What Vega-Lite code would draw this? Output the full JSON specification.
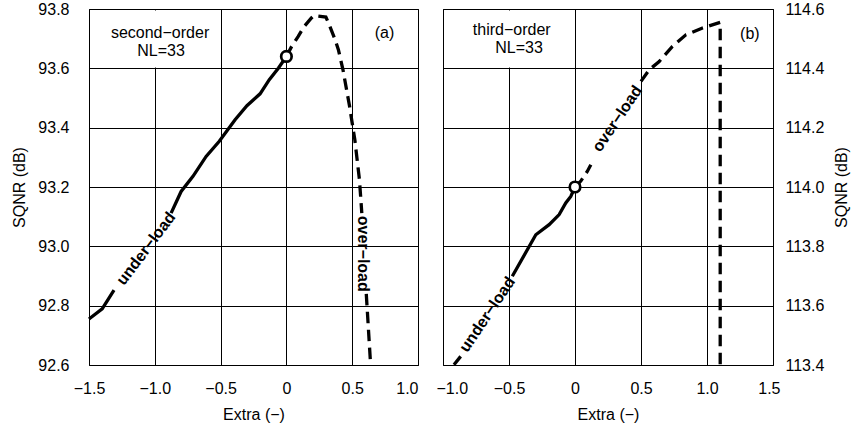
{
  "$schema": "https://vega.github.io/schema/vega-lite/v6.json",
  "padding": {"left": 11, "top": 0, "right": 0, "bottom": 0},
  "spacing": 16,
  "config": {
    "font": "Liberation Sans",
    "view": {"stroke": "black", "strokeWidth": 1},
    "axis": {
      "labelFont": "Liberation Sans", "labelFontSize": 16, "labelColor": "black",
      "titleFont": "Liberation Sans", "titleFontSize": 16, "titleFontWeight": "normal", "titleColor": "black",
      "grid": true, "gridColor": "black", "gridOpacity": 1, "gridWidth": 1,
      "ticks": false, "tickSize": 0, "domain": false, "zindex": 0
    },
    "text": {"font": "Liberation Sans", "fontSize": 16, "color": "black"}
  },
  "hconcat": [
    {
      "width": 329, "height": 356,
      "encoding": {
        "x": {"field": "x", "type": "quantitative",
          "scale": {"domain": [-1.5, 1.0], "nice": false, "zero": false},
          "axis": {"values": [-1.5, -1, -0.5, 0, 0.5, 1], "title": "Extra (−)",
            "labelExpr": "datum.value == 0 ? '0' : format(datum.value, '.1f')",
            "labelAlign": {"expr": "datum.value == 1 ? 'right' : 'center'"},
            "labelPadding": 15, "titlePadding": 10}},
        "y": {"field": "y", "type": "quantitative",
          "scale": {"domain": [92.6, 93.8], "nice": false, "zero": false},
          "axis": {"values": [92.6, 92.8, 93.0, 93.2, 93.4, 93.6, 93.8], "format": ".1f", "title": "SQNR (dB)",
            "labelPadding": 20, "titlePadding": 10}}
      },
      "layer": [
        {
          "data": {"values": [{"x": -1.15, "x2": -0.85, "y": 93.603, "y2": 93.795}]},
          "mark": {"type": "rect", "fill": "white"},
          "encoding": {"x2": {"field": "x2"}, "y2": {"field": "y2"}}
        },
        {
          "data": {"values": [
            {"seg": 1, "x": -1.5, "y": 92.755},
            {"seg": 1, "x": -1.40, "y": 92.789},
            {"seg": 1, "x": -1.31, "y": 92.852},
            {"seg": 2, "x": -0.876, "y": 93.112},
            {"seg": 2, "x": -0.80, "y": 93.185},
            {"seg": 2, "x": -0.71, "y": 93.236},
            {"seg": 2, "x": -0.61, "y": 93.303},
            {"seg": 2, "x": -0.51, "y": 93.354},
            {"seg": 2, "x": -0.39, "y": 93.427},
            {"seg": 2, "x": -0.30, "y": 93.474},
            {"seg": 2, "x": -0.20, "y": 93.514},
            {"seg": 2, "x": -0.13, "y": 93.562},
            {"seg": 2, "x": -0.06, "y": 93.601},
            {"seg": 2, "x": 0.0, "y": 93.64}
          ]},
          "mark": {"type": "line", "color": "black", "strokeWidth": 3.3},
          "encoding": {"detail": {"field": "seg", "type": "nominal"}, "order": {"value": null}}
        },
        {
          "data": {"values": [
            {"seg": 3, "x": 0.0, "y": 93.64},
            {"seg": 3, "x": 0.04, "y": 93.674},
            {"seg": 3, "x": 0.09, "y": 93.708},
            {"seg": 3, "x": 0.13, "y": 93.738},
            {"seg": 3, "x": 0.19, "y": 93.770},
            {"seg": 3, "x": 0.21, "y": 93.778},
            {"seg": 3, "x": 0.30, "y": 93.773},
            {"seg": 3, "x": 0.32, "y": 93.753},
            {"seg": 3, "x": 0.37, "y": 93.697},
            {"seg": 3, "x": 0.395, "y": 93.663},
            {"seg": 3, "x": 0.43, "y": 93.595},
            {"seg": 3, "x": 0.48, "y": 93.472},
            {"seg": 3, "x": 0.52, "y": 93.359},
            {"seg": 3, "x": 0.555, "y": 93.225},
            {"seg": 3, "x": 0.573, "y": 93.112},
            {"seg": 4, "x": 0.607, "y": 92.84},
            {"seg": 4, "x": 0.64, "y": 92.6}
          ]},
          "mark": {"type": "line", "color": "black", "strokeWidth": 3.3, "strokeDash": [11.5, 6.5]},
          "encoding": {"detail": {"field": "seg", "type": "nominal"}, "order": {"value": null}}
        },
        {
          "data": {"values": [{"x": 0.0, "y": 93.64}]},
          "mark": {"type": "point", "shape": "circle", "filled": true, "fill": "white", "stroke": "black", "strokeWidth": 2.7, "size": 110, "opacity": 1}
        },
        {
          "data": {"values": [
            {"label": "second−order", "x": -0.96, "y": 93.702},
            {"label": "NL=33", "x": -0.952, "y": 93.641}
          ]},
          "mark": {"type": "text", "align": "center", "baseline": "alphabetic"},
          "encoding": {"text": {"field": "label", "type": "nominal"}}
        },
        {
          "data": {"values": [{"label": "(a)", "x": 0.745, "y": 93.718}]},
          "mark": {"type": "text", "align": "center", "baseline": "middle"},
          "encoding": {"text": {"field": "label", "type": "nominal"}}
        },
        {
          "data": {"values": [{"label": "under−load", "x": -1.066, "y": 92.992}]},
          "mark": {"type": "text", "align": "center", "baseline": "middle", "angle": -53, "fontWeight": "bold"},
          "encoding": {"text": {"field": "label", "type": "nominal"}}
        },
        {
          "data": {"values": [{"label": "over−load", "x": 0.583, "y": 92.975}]},
          "mark": {"type": "text", "align": "center", "baseline": "middle", "angle": 90, "fontWeight": "bold"},
          "encoding": {"text": {"field": "label", "type": "nominal"}}
        }
      ]
    },
    {
      "width": 330, "height": 356,
      "encoding": {
        "x": {"field": "x", "type": "quantitative",
          "scale": {"domain": [-1.0, 1.5], "nice": false, "zero": false},
          "axis": {"values": [-1, -0.5, 0, 0.5, 1, 1.5], "title": "Extra (−)",
            "labelExpr": "datum.value == 0 ? '0' : format(datum.value, '.1f')",
            "labelFlush": true, "labelFlushOffset": 7,
            "labelPadding": 15, "titlePadding": 10}},
        "y": {"field": "y", "type": "quantitative",
          "scale": {"domain": [113.4, 114.6], "nice": false, "zero": false},
          "axis": {"orient": "right", "values": [113.4, 113.6, 113.8, 114.0, 114.2, 114.4, 114.6], "format": ".1f", "title": "SQNR (dB)",
            "titleAngle": 270, "titleBaseline": "top",
            "labelPadding": 12, "titlePadding": 10}}
      },
      "layer": [
        {
          "data": {"values": [{"x": -0.65, "x2": -0.35, "y": 114.403, "y2": 114.595}]},
          "mark": {"type": "rect", "fill": "white"},
          "encoding": {"x2": {"field": "x2"}, "y2": {"field": "y2"}}
        },
        {
          "data": {"values": [
            {"seg": 1, "x": -0.917, "y": 113.401},
            {"seg": 1, "x": -0.866, "y": 113.429},
            {"seg": 2, "x": -0.475, "y": 113.699},
            {"seg": 2, "x": -0.297, "y": 113.839},
            {"seg": 2, "x": -0.196, "y": 113.873},
            {"seg": 2, "x": -0.12, "y": 113.907},
            {"seg": 2, "x": -0.07, "y": 113.946},
            {"seg": 2, "x": -0.032, "y": 113.968},
            {"seg": 2, "x": 0.0, "y": 114.0}
          ]},
          "mark": {"type": "line", "color": "black", "strokeWidth": 3.3},
          "encoding": {"detail": {"field": "seg", "type": "nominal"}, "order": {"value": null}}
        },
        {
          "data": {"values": [
            {"seg": 3, "x": 0.0, "y": 114.0},
            {"seg": 3, "x": 0.044, "y": 114.02},
            {"seg": 3, "x": 0.094, "y": 114.053},
            {"seg": 3, "x": 0.12, "y": 114.075},
            {"seg": 4, "x": 0.50, "y": 114.356},
            {"seg": 4, "x": 0.562, "y": 114.395},
            {"seg": 4, "x": 0.638, "y": 114.423},
            {"seg": 4, "x": 0.738, "y": 114.474},
            {"seg": 4, "x": 0.84, "y": 114.513},
            {"seg": 4, "x": 0.966, "y": 114.536},
            {"seg": 4, "x": 1.1, "y": 114.555},
            {"seg": 4, "x": 1.1, "y": 113.4}
          ]},
          "mark": {"type": "line", "color": "black", "strokeWidth": 3.3, "strokeDash": [11.5, 6.5]},
          "encoding": {"detail": {"field": "seg", "type": "nominal"}, "order": {"value": null}}
        },
        {
          "data": {"values": [{"x": 0.0, "y": 114.0}]},
          "mark": {"type": "point", "shape": "circle", "filled": true, "fill": "white", "stroke": "black", "strokeWidth": 2.7, "size": 110, "opacity": 1}
        },
        {
          "data": {"values": [
            {"label": "third−order", "x": -0.479, "y": 114.513},
            {"label": "NL=33", "x": -0.424, "y": 114.453}
          ]},
          "mark": {"type": "text", "align": "center", "baseline": "alphabetic"},
          "encoding": {"text": {"field": "label", "type": "nominal"}}
        },
        {
          "data": {"values": [{"label": "(b)", "x": 1.325, "y": 114.517}]},
          "mark": {"type": "text", "align": "center", "baseline": "middle"},
          "encoding": {"text": {"field": "label", "type": "nominal"}}
        },
        {
          "data": {"values": [{"label": "under−load", "x": -0.664, "y": 113.570}]},
          "mark": {"type": "text", "align": "center", "baseline": "middle", "angle": -56, "fontWeight": "bold"},
          "encoding": {"text": {"field": "label", "type": "nominal"}}
        },
        {
          "data": {"values": [{"label": "over−load", "x": 0.321, "y": 114.230}]},
          "mark": {"type": "text", "align": "center", "baseline": "middle", "angle": -56, "fontWeight": "bold"},
          "encoding": {"text": {"field": "label", "type": "nominal"}}
        }
      ]
    }
  ]
}
